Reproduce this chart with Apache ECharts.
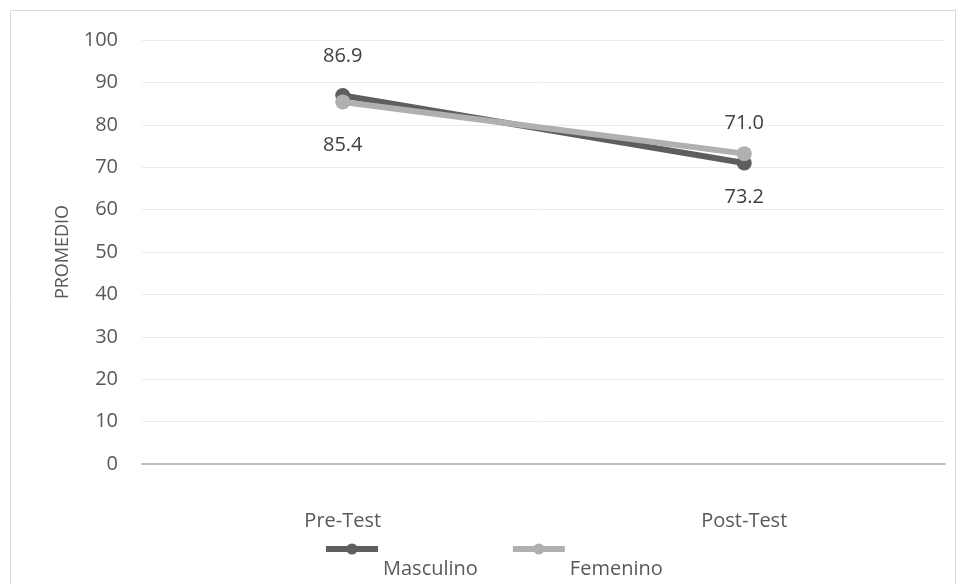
<!DOCTYPE html>
<html>
<head>
<meta charset="utf-8">
<script src="https://cdn.jsdelivr.net/npm/echarts@6/dist/echarts.min.js"></script>
<style>
  html, body { margin: 0; padding: 0; background: #fff; }
  #chart { width: 965px; height: 584px; }
</style>
</head>
<body>
<div id="chart"></div>
<script>
// Average score per group, before and after
const categories = ['Pre-Test', 'Post-Test'];
const masculino = [86.9, 71.0];
const femenino = [85.4, 73.2];
const yTicks = { min: 0, max: 100, interval: 10 };

const FONT = '"Open Sans", "Liberation Sans", sans-serif';
const TEXT = '#595959';
const SIZE = 20;

const chart = echarts.init(document.getElementById('chart'), null, { renderer: 'canvas' });

chart.setOption({
  backgroundColor: '#ffffff',
  animation: false,
  graphic: [{
    type: 'rect',
    shape: { x: 10.5, y: 10.5, width: 945, height: 600 },
    style: { fill: 'none', stroke: '#D9D9D9', lineWidth: 1 },
    silent: true
  }],
  grid: { left: 142, right: 20, top: 40, bottom: 120 },
  legend: {
    top: 504,
    left: 318,
    itemWidth: 52,
    itemHeight: 14,
    itemGap: 32,
    formatter: '\n{name}',
    lineStyle: { width: 6 },
    textStyle: { fontFamily: FONT, fontSize: SIZE, color: TEXT, lineHeight: 40 },
    data: ['Masculino', 'Femenino']
  },
  xAxis: {
    type: 'category',
    data: categories,
    boundaryGap: true,
    axisLine: { show: true, lineStyle: { color: '#BFBFBF', width: 2 } },
    axisTick: { show: false },
    axisLabel: { margin: 47, fontFamily: FONT, fontSize: SIZE, color: TEXT }
  },
  yAxis: {
    type: 'value',
    min: yTicks.min,
    max: yTicks.max,
    interval: yTicks.interval,
    name: 'PROMEDIO',
    nameLocation: 'middle',
    nameGap: 70,
    nameRotate: 90,
    nameTextStyle: { fontFamily: FONT, fontSize: 18, color: TEXT },
    axisLine: { show: false },
    axisTick: { show: false },
    axisLabel: { margin: 24, fontFamily: FONT, fontSize: SIZE, color: TEXT },
    splitLine: { lineStyle: { color: '#EBEBEB', width: 1 } }
  },
  series: [
    {
      name: 'Masculino',
      type: 'line',
      data: masculino,
      symbol: 'circle',
      symbolSize: 15,
      itemStyle: { color: '#5E5E5E' },
      lineStyle: { color: '#5E5E5E', width: 6 },
      z: 2,
      label: {
        show: true, position: 'top', distance: 22,
        formatter: p => p.value.toFixed(1),
        fontFamily: FONT, fontSize: SIZE, color: '#404040'
      }
    },
    {
      name: 'Femenino',
      type: 'line',
      data: femenino,
      symbol: 'circle',
      symbolSize: 15,
      itemStyle: { color: '#B0B0B0' },
      lineStyle: { color: '#B0B0B0', width: 6 },
      z: 3,
      label: {
        show: true, position: 'bottom', distance: 26,
        formatter: p => p.value.toFixed(1),
        fontFamily: FONT, fontSize: SIZE, color: '#404040'
      }
    }
  ]
});
</script>
</body>
</html>
